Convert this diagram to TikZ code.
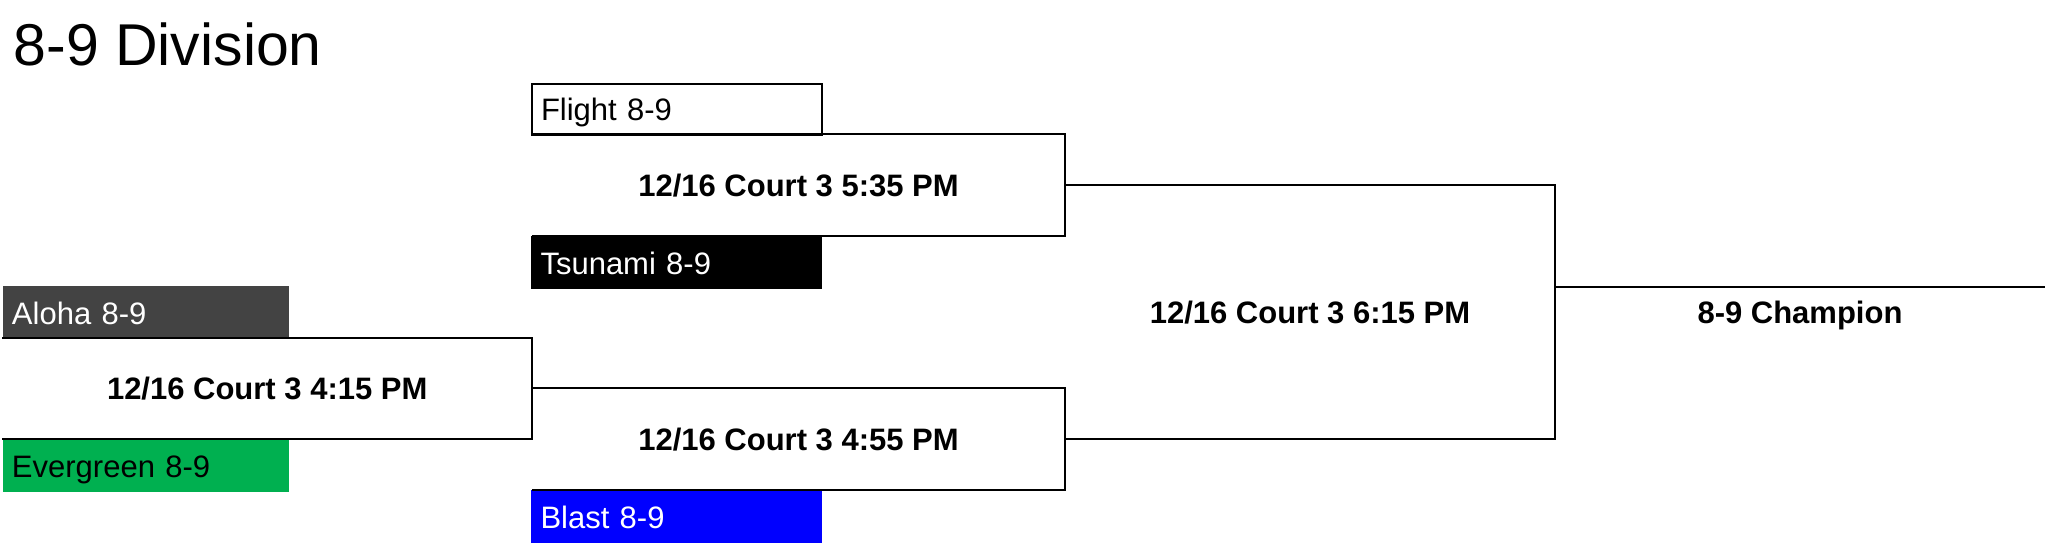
\documentclass[tikz,border=0pt]{standalone}
\usepackage{fontspec}
\setmainfont{Liberation Sans}
\definecolor{alohagray}{HTML}{434343}
\definecolor{evergreen}{HTML}{00B050}
\definecolor{blastblue}{HTML}{0000FF}
\tikzset{
  team/.style={rectangle, anchor=north west, inner xsep=9pt, inner ysep=0pt,
    text width=272pt, align=left, text height=38pt, text depth=14pt,
    font=\fontsize{31}{37}\selectfont, line width=1pt},
  match/.style={rectangle, inner sep=0pt, text height=22.3pt, text depth=0pt,
    font=\fontsize{31}{37}\selectfont\bfseries, align=center},
  bracket/.style={draw=black, line width=2.2pt, line join=miter},
}
\begin{document}
\begin{tikzpicture}[x=1pt, y=-1pt]
  \useasboundingbox (0,0) rectangle (2048,545);
  \fill[white] (0,0) rectangle (2048,545);

  % title
  \node[anchor=base west, inner sep=0pt, font=\fontsize{59}{70}\selectfont] (title) at (13.5,65.7) {8-9 Division};

  % team boxes
  \node[team, fill=white, draw=black, line width=2pt, text height=37pt] (flight) at (531,83) {Flight 8-9};
  \node[team, fill=black, draw=black, text=white] (tsunami) at (531,236) {Tsunami 8-9};
  \node[team, fill=alohagray, draw=alohagray, text=white, text width=267.5pt] (aloha) at (2.5,286) {Aloha 8-9};
  \node[team, fill=evergreen, draw=evergreen, text=black, text width=267.5pt] (evergreen) at (2.5,439) {Evergreen 8-9};
  \node[team, fill=blastblue, draw=blastblue, text=white] (blast) at (531,490) {Blast 8-9};

  % matches
  \node[match, minimum width=529.5pt, minimum height=101pt] (m1) at (267.25,388.5) {12/16 Court 3 4:15 PM};
  \node[match, minimum width=533pt, minimum height=102pt] (m2) at (798.5,185) {12/16 Court 3 5:35 PM};
  \node[match, minimum width=533pt, minimum height=101.5pt] (m3) at (798.5,439.25) {12/16 Court 3 4:55 PM};
  \node[match, minimum width=490pt, minimum height=254pt] (m4) at (1310,312) {12/16 Court 3 6:15 PM};
  \node[match, font=\fontsize{31}{37}\selectfont\bfseries, minimum width=490pt, minimum height=50pt] (champ) at (1800,312) {8-9 Champion};

  % bracket lines
  \draw[bracket] (m1.north west) -- (m1.north east) -- (m1.south east) -- (m1.south west);
  \draw[bracket] (m2.north west) -- (m2.north east) -- (m2.south east) -- (m2.south west);
  \draw[bracket] (m3.north west) -- (m3.north east) -- (m3.south east) -- (m3.south west);
  \draw[bracket] (m4.north west) -- (m4.north east) -- (m4.south east) -- (m4.south west);
  \draw[bracket] (champ.north west) -- (champ.north east);
\end{tikzpicture}
\end{document}
